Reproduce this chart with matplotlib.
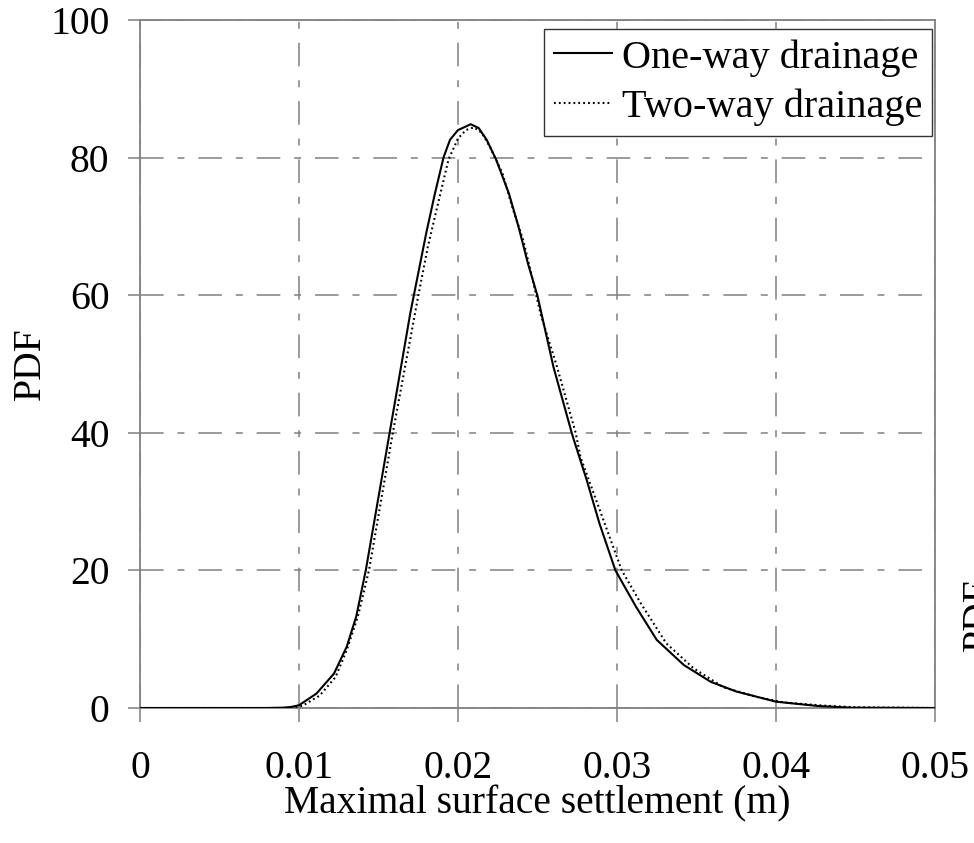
import matplotlib
matplotlib.use("Agg")
import matplotlib.pyplot as plt

# ---- data ----
one_way_x = [0.0, 0.008, 0.009, 0.0095, 0.0100, 0.0111, 0.0122, 0.0130, 0.0136, 0.0142,
             0.0157, 0.0170, 0.0175, 0.0180, 0.01855, 0.0191, 0.0195, 0.0200, 0.0208,
             0.0213, 0.0218, 0.0224, 0.0232, 0.0238, 0.0244, 0.0250, 0.0260, 0.0272,
             0.0281, 0.0289, 0.0299, 0.0312, 0.0325, 0.0342, 0.0359, 0.0375, 0.0400,
             0.0426, 0.0447, 0.0500]
one_way_y = [0.0, 0.0, 0.05, 0.15, 0.4, 2.1, 5.0, 8.9, 13.3, 20.0,
             40.0, 57.4, 63.2, 69.0, 74.8, 80.1, 82.6, 84.0, 84.85,
             84.3, 82.6, 79.7, 74.8, 70.0, 64.6, 59.9, 49.6, 39.6,
             33.1, 26.8, 20.0, 14.7, 9.9, 6.25, 3.8, 2.4, 0.92,
             0.3, 0.05, 0.0]

two_way_x = [0.0, 0.009, 0.0095, 0.0102, 0.0113, 0.0123, 0.0130, 0.0137, 0.0144,
             0.0159, 0.0175, 0.0181, 0.0187, 0.0194, 0.0200, 0.0205, 0.0210, 0.0215,
             0.0220, 0.0228, 0.0234, 0.0241, 0.0246, 0.0252, 0.0262, 0.0274, 0.0277,
             0.0303, 0.0315, 0.0331, 0.0348, 0.0367, 0.0388, 0.0405, 0.0430, 0.0450,
             0.0500]
two_way_y = [0.0, 0.0, 0.05, 0.3, 1.8, 4.5, 8.4, 13.3, 20.0,
             40.0, 59.9, 67.0, 72.9, 79.7, 82.8, 84.0, 84.4, 83.6,
             81.6, 77.7, 72.9, 68.0, 63.2, 57.2, 49.8, 40.0, 36.5,
             20.0, 15.2, 9.4, 5.8, 3.0, 1.6, 0.8, 0.35, 0.1,
             0.0]

x_ticks = [0, 0.01, 0.02, 0.03, 0.04, 0.05]
x_tick_labels = ["0", "0.01", "0.02", "0.03", "0.04", "0.05"]
y_ticks = [0, 20, 40, 60, 80, 100]
y_tick_labels = ["0", "20", "40", "60", "80", "100"]
series_labels = ["One-way drainage", "Two-way drainage"]

# ---- style ----
plt.rcParams['font.family'] = ['Liberation Serif', 'DejaVu Serif']
plt.rcParams['lines.scale_dashes'] = False
FS = 28.5
GRAY = '#808080'

fig = plt.figure(figsize=(9.74, 8.43), dpi=100)
ax = fig.add_axes([140/974, 1-708/843, 795/974, 688/843])

ax.plot(one_way_x, one_way_y, color='black', lw=1.5, linestyle='-',
        solid_joinstyle='round', label=series_labels[0], zorder=3)
ax.plot(two_way_x, two_way_y, color='black', lw=1.5, linestyle=(0, (1.3, 2.2)),
        label=series_labels[1], zorder=3)

ax.set_xlim(0, 0.05)
ax.set_ylim(0, 100)
ax.set_xticks(x_ticks)
ax.set_xticklabels(x_tick_labels)
ax.set_yticks(y_ticks)
ax.set_yticklabels(y_tick_labels)

ax.grid(True, color=GRAY, lw=1.1, linestyle=(0, (17, 10, 5, 10)))
ax.set_axisbelow(True)

for s in ax.spines.values():
    s.set_color(GRAY)
    s.set_linewidth(1.3)

ax.tick_params(axis='x', direction='out', length=10, width=1.1, color=GRAY,
               labelsize=FS, pad=20)
ax.tick_params(axis='y', direction='out', length=9, width=1.1, color=GRAY,
               labelsize=FS, pad=13)

ax.set_xlabel("Maximal surface settlement (m)", fontsize=FS, labelpad=-1)
ax.set_ylabel("PDF", fontsize=FS, labelpad=1)

leg = ax.legend(loc='upper right', fontsize=29, frameon=True, fancybox=False,
                edgecolor='#333333', framealpha=1, borderpad=0.25,
                handlelength=1.45, handletextpad=0.23, labelspacing=0.3,
                borderaxespad=0.0,
                bbox_to_anchor=((932-140)/795, (708-29)/688))
leg.get_frame().set_linewidth(1.0)

# fragment of a neighbouring panel's axis label, cut by the right edge
fig.text(979/974, 1-615/843, "PDF", rotation=90, ha='center', va='center',
         fontsize=FS)

fig.savefig("out.png", dpi=100)
